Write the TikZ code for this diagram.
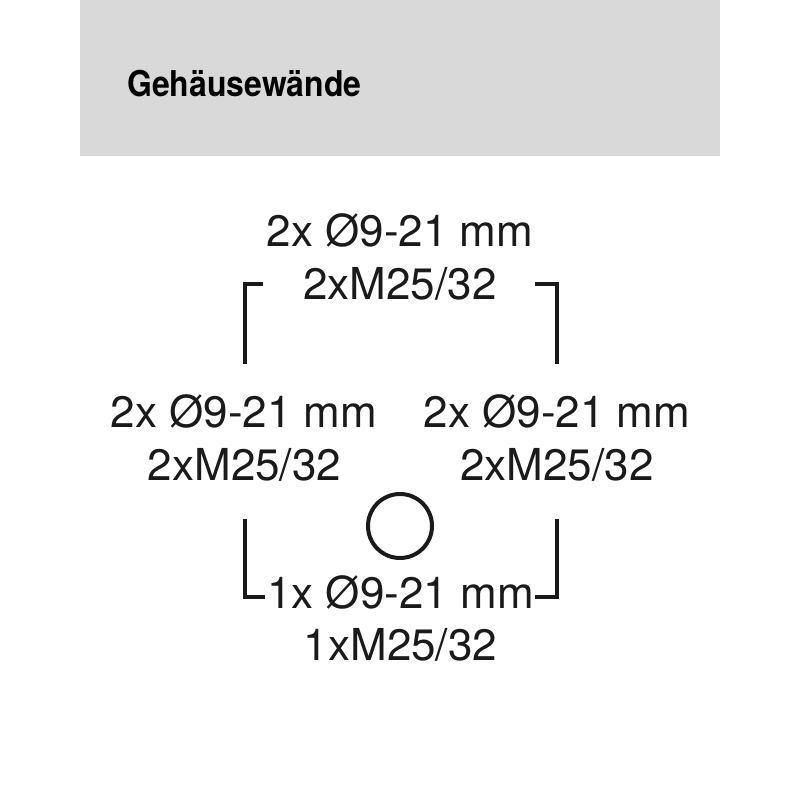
\documentclass[tikz,border=0pt]{standalone}
\usepackage{fontspec}
\setmainfont{TeX Gyre Heros}
\newfontfamily\titlefont[FakeStretch=0.9]{TeX Gyre Heros}
\definecolor{headgray}{HTML}{D9D9D9}
\definecolor{ink}{HTML}{1A1A1A}
\begin{document}
\begin{tikzpicture}[x=1pt,y=-1pt,
  lbl/.style={anchor=base,inner sep=0pt,text=ink,font=\fontsize{44}{51}\selectfont},
  brk/.style={draw=ink,line width=4.5pt,line join=miter}]
\useasboundingbox (0,0) rectangle (800,800);
\fill[headgray] (80,0) rectangle (720,156);
\node[anchor=base west,inner sep=0pt,font=\titlefont\bfseries\fontsize{35.5}{40}\selectfont] (title) at (127,96.5) {Gehäusewände};
% top
\node[lbl] (t1) at (400,246) {2x Ø9-21 mm};
\node[lbl] (t2) at (400,299) {2xM25/32};
% left
\node[lbl] (l1) at (244,427) {2x Ø9-21 mm};
\node[lbl] (l2) at (244.5,480) {2xM25/32};
% right
\node[lbl] (r1) at (557,427) {2x Ø9-21 mm};
\node[lbl] (r2) at (557,480) {2xM25/32};
% bottom
\node[lbl] (b1) at (400.5,608) {1x Ø9-21 mm};
\node[lbl] (b2) at (400.5,660) {1xM25/32};
% brackets
\draw[brk] (263,284) -- (245,284) -- (245,364);
\draw[brk] (535,284) -- (557,284) -- (557,364);
\draw[brk] (245,519) -- (245,597) -- (265,597);
\draw[brk] (557,519) -- (557,597) -- (535,597);
% circle
\draw[draw=ink,line width=4pt] (400,526) circle[radius=32];
\end{tikzpicture}
\end{document}
